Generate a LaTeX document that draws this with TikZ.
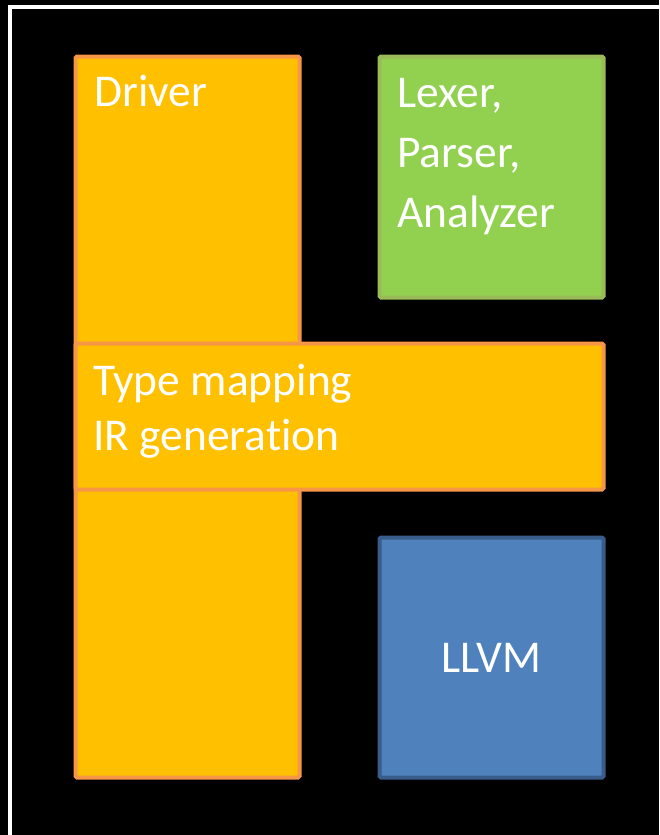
\documentclass[tikz,border=0pt]{standalone}
\usepackage{fontspec}
\setmainfont{Carlito}[Ligatures=NoCommon]
\definecolor{ofill}{HTML}{FFC000}
\definecolor{oline}{HTML}{F79646}
\definecolor{gfill}{HTML}{92D050}
\definecolor{gline}{HTML}{9BBB59}
\definecolor{bfill}{HTML}{4F81BD}
\definecolor{bline}{HTML}{385D8A}
\begin{document}
\begin{tikzpicture}[x=1pt,y=-1pt,
  box/.style={draw, line width=4pt, rounded corners=1.5pt, inner sep=0pt, anchor=north west},
  obox/.style={box, fill=ofill, draw=oline},
  gbox/.style={box, fill=gfill, draw=gline},
  bbox/.style={box, fill=bfill, draw=bline},
  lbl/.style={text=white, font=\fontsize{45.5}{55}\selectfont, inner sep=0pt}]
\useasboundingbox (0,0) rectangle (659,835);
\fill[black] (0,0) rectangle (659,835);
\draw[white, line width=4pt] (10,900) -- (10,7) -- (700,7);
\node[obox, minimum width=224pt, minimum height=721pt] (driver) at (73.5,54.5) {};
\node[gbox, minimum width=224pt, minimum height=241pt] (lexer) at (377.5,54.5) {};
\node[obox, minimum width=528pt, minimum height=146pt] (ir) at (73.5,341.5) {};
\node[bbox, minimum width=224pt, minimum height=240pt] (llvm) at (377.5,535.5) {};
\node[lbl, anchor=base west] (driverlbl) at (94,106) {Driver};
\node[lbl, anchor=base west, align=left, font=\fontsize{45.5}{60}\selectfont] (lexerlbl) at (397,227) {Lexer,\\Parser,\\Analyzer};
\node[lbl, anchor=base west, align=left] (irlbl) at (93,450) {Type mapping\\IR generation};
\node[lbl] (llvmlbl) at (llvm.center) {LLVM};
\end{tikzpicture}
\end{document}
